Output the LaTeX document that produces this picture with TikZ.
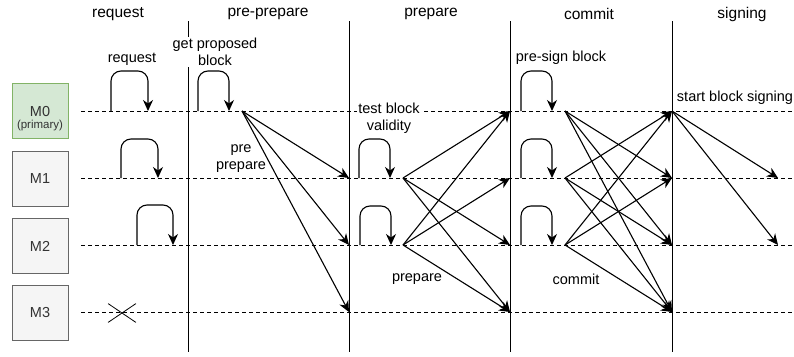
\documentclass[tikz,border=0pt]{standalone}
\usepackage{fontspec}
\setmainfont{Liberation Sans}
\usetikzlibrary{arrows.meta,shapes.misc}
\definecolor{primfill}{HTML}{D5E8D4}
\definecolor{primline}{HTML}{82B366}
\definecolor{boxfill}{HTML}{F5F5F5}
\definecolor{boxline}{HTML}{666666}
\definecolor{boxtext}{HTML}{333333}
\newcommand{\lbl}{\fontsize{14.5}{17}\selectfont}
\newcommand{\hdr}{\fontsize{15.5}{18}\selectfont}
\newcommand{\sml}{\fontsize{11.5}{13}\selectfont}
\tikzset{
	member/.style={draw=boxline,fill=boxfill,text=boxtext,minimum width=56pt,minimum height=55pt,inner sep=0pt,align=center,font=\lbl,line width=0.8pt},
	primary/.style={draw=primline,fill=primfill},
	lifeline/.style={dash pattern=on 4pt off 3pt,line width=0.8pt},
	phase/.style={line width=1pt},
	msg/.style={-{Stealth[length=11pt,width=10pt,inset=3.5pt]},line width=1.1pt},
	selfloop/.style={msg,rounded corners=10pt},
	note/.style={font=\lbl,align=center,inner sep=1pt},
	wnote/.style={note,fill=white},
}

\begin{document}
\begin{tikzpicture}[x=1pt,y=-1pt]
	\useasboundingbox (0,0) rectangle (794,356);
	\node[member,primary] at (40,111)(M0){};
	\node[note,text=boxtext,inner sep=0pt] at (40,112)(M0a){M0};
	\node[note,text=boxtext,inner sep=0pt,font=\sml] at (40,125.5)(M0b){(primary)};
	\node[member] at (40,179)(M1){M1};
	\node[member] at (40,246)(M2){M2};
	\node[member] at (40,313)(M3){M3};

	\coordinate (a0) at (81,111); \coordinate (b0) at (794,111);
	\coordinate (a1) at (81,178); \coordinate (b1) at (794,178);
	\coordinate (a2) at (81,245); \coordinate (b2) at (794,245);
	\coordinate (a3) at (81,312); \coordinate (b3) at (794,312);
	\draw[lifeline] (a0)--(b0) (a1)--(b1) (a2)--(b2) (a3)--(b3);

	\coordinate (v1t) at (188,21); \coordinate (v1b) at (188,352);
	\coordinate (v2t) at (349,21); \coordinate (v2b) at (349,352);
	\coordinate (v3t) at (510,21); \coordinate (v3b) at (510,352);
	\coordinate (v4t) at (672,21); \coordinate (v4b) at (672,352);
	\draw[phase] (v1t)--(v1b) (v2t)--(v2b) (v3t)--(v3b) (v4t)--(v4b);

	\node[note,font=\hdr] at (118,14)(h1){request};
	\node[note,font=\hdr] at (268,14)(h2){pre-prepare};
	\node[note,font=\hdr] at (431,14)(h3){prepare};
	\node[note,font=\hdr] at (589,14)(h4){commit};
	\node[note,font=\hdr] at (742,14)(h5){signing};

	\node[note] at (132,59)(t1){request};
	\node[wnote] at (215,52)(t2){get proposed\\block};
	\node[note] at (241,159)(t3){pre\\prepare};
	\node[wnote] at (389,118)(t4){test block\\validity};
	\node[note] at (417,279)(t5){prepare};
	\node[note] at (561,58)(t6){pre-sign block};
	\node[note] at (576,279)(t7){commit};
	\node[note] at (735,98)(t8){start block signing};

	\node[cross out,draw,line width=0.8pt,minimum width=27pt,minimum height=18pt] at (122,313)(x3){};

	% self loops
	\coordinate (rq0a) at (111,111); \coordinate (rq0b) at (148,111);
	\coordinate (rq1a) at (121,178); \coordinate (rq1b) at (158,178);
	\coordinate (rq2a) at (137,245); \coordinate (rq2b) at (173,245);
	\coordinate (pp0a) at (198,111); \coordinate (pp0b) at (229,111);
	\coordinate (pr1a) at (359,178); \coordinate (pr1b) at (390,178);
	\coordinate (pr2a) at (360,245); \coordinate (pr2b) at (391,245);
	\coordinate (cm0a) at (521,111); \coordinate (cm0b) at (552,111);
	\coordinate (cm1a) at (521,178); \coordinate (cm1b) at (552,178);
	\coordinate (cm2a) at (521,245); \coordinate (cm2b) at (552,245);
	\draw[selfloop] (rq0a)--++(0,-40)-|(rq0b);
	\draw[selfloop] (rq1a)--++(0,-39)-|(rq1b);
	\draw[selfloop] (rq2a)--++(0,-40)-|(rq2b);
	\draw[selfloop] (pp0a)--++(0,-40)-|(pp0b);
	\draw[selfloop] (pr1a)--++(0,-39)-|(pr1b);
	\draw[selfloop] (pr2a)--++(0,-39)-|(pr2b);
	\draw[selfloop] (cm0a)--++(0,-40)-|(cm0b);
	\draw[selfloop] (cm1a)--++(0,-39)-|(cm1b);
	\draw[selfloop] (cm2a)--++(0,-39)-|(cm2b);

	% messages
	\coordinate (pp) at (242,111);
	\coordinate (p1) at (349,178); \coordinate (p2) at (349,245); \coordinate (p3) at (349,312);
	\path[msg] (pp)edge(p1)(pp)edge(p2)(pp)edge(p3);

	\coordinate (pr1) at (403,178); \coordinate (pr2) at (403,245);
	\coordinate (q0) at (510,111); \coordinate (q1) at (510,178);
	\coordinate (q2) at (510,245); \coordinate (q3) at (510,312);
	\path[msg] (pr1)edge(q0)(pr1)edge(q2)(pr1)edge(q3);
	\path[msg] (pr2)edge(q0)(pr2)edge(q1)(pr2)edge(q3);

	\coordinate (cm0) at (565,111); \coordinate (cm1) at (565,178); \coordinate (cm2) at (565,245);
	\coordinate (s0) at (672,111); \coordinate (s1) at (672,178);
	\coordinate (s2) at (672,245); \coordinate (s3) at (672,312);
	\path[msg] (cm0)edge(s1)(cm0)edge(s2)(cm0)edge(s3);
	\path[msg] (cm1)edge(s0)(cm1)edge(s2)(cm1)edge(s3);
	\path[msg] (cm2)edge(s0)(cm2)edge(s1)(cm2)edge(s3);

	\coordinate (g1) at (778,178); \coordinate (g2) at (778,245);
	\path[msg] (s0)edge(g1)(s0)edge(g2);
\end{tikzpicture}
\end{document}
